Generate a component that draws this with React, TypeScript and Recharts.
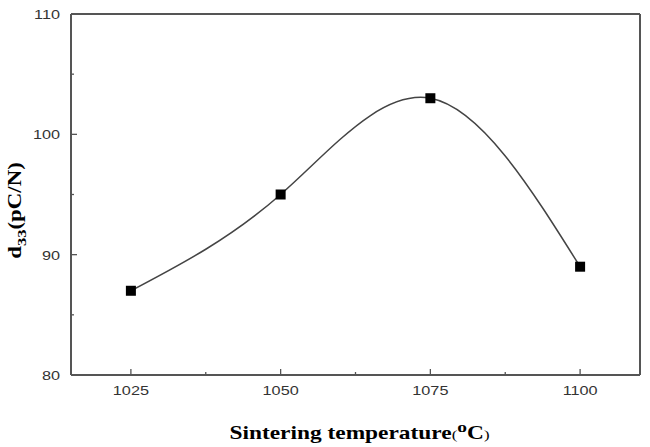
import React from "react";
import {
  ComposedChart,
  Line,
  XAxis,
  YAxis,
  ReferenceLine,
  Label,
} from "recharts";

const temperatures = [1025, 1050, 1075, 1100];
const d33Values = [87, 95, 103, 89];
const xTicks = [1025, 1037.5, 1050, 1062.5, 1075, 1087.5, 1100];
const xMajor = [1025, 1050, 1075, 1100];
const yTicks = [80, 85, 90, 95, 100, 105, 110];
const yMajor = [80, 90, 100, 110];
const xDomain = [1015, 1110];
const yDomain = [80, 110];

const data = temperatures.map((t, i) => ({ t, v: d33Values[i] }));

const AXIS = "#555";
const W = 650;
const H = 447;
const MARGIN = { top: 14, right: 10, left: 0, bottom: 0 };
const Y_WIDTH = 71;
const X_HEIGHT = 72;
const TICK_MARGIN = 4;

const XTick = (props: any) => {
  const { x, y, payload } = props;
  const axisY = y - TICK_MARGIN;
  const major = xMajor.includes(payload.value);
  return (
    <g>
      <line x1={x} x2={x} y1={axisY} y2={axisY - (major ? 6 : 3)} stroke={AXIS} strokeWidth={1.3} />
      {major && (
        <g transform={`translate(${x},${axisY + 20}) scale(1.25,1)`}>
          <text x={0} y={0} textAnchor="middle" fontFamily="Liberation Sans, Arial, sans-serif" fontSize={13} fill="#333">
            {payload.value}
          </text>
        </g>
      )}
    </g>
  );
};

const YTick = (props: any) => {
  const { x, y, payload } = props;
  const axisX = x + TICK_MARGIN;
  const major = yMajor.includes(payload.value);
  return (
    <g>
      <line x1={axisX} x2={axisX + (major ? 6 : 3)} y1={y} y2={y} stroke={AXIS} strokeWidth={1.3} />
      {major && (
        <g transform={`translate(${axisX - 11},${y + 5}) scale(1.25,1)`}>
          <text x={0} y={0} textAnchor="end" fontFamily="Liberation Sans, Arial, sans-serif" fontSize={13} fill="#333">
            {payload.value}
          </text>
        </g>
      )}
    </g>
  );
};

const SquareDot = (props: any) => {
  const { cx, cy } = props;
  if (cx == null || cy == null) return null;
  return <rect x={cx - 5} y={cy - 5} width={10} height={10} fill="#000" />;
};

const XTitle = (props: any) => {
  const vb = props.viewBox || {};
  const cx = vb.x + vb.width / 2 + 4;
  const y = vb.y + 64;
  return (
    <g transform={`translate(${cx},${y}) scale(1.3,1)`}>
      <text x={0} y={0} textAnchor="middle" fontFamily="Liberation Serif, Times New Roman, serif" fontWeight="bold" fontSize={18} fill="#000">
        Sintering temperature
        <tspan fontSize={13} fontWeight="normal">(</tspan>
        <tspan fontSize={15} dy={-7}>o</tspan>
        <tspan dy={7}>C</tspan>
        <tspan fontSize={13} fontWeight="normal">)</tspan>
      </text>
    </g>
  );
};

const YTitle = (props: any) => {
  const vb = props.viewBox || {};
  const cy = vb.y + vb.height / 2 + 16;
  const x = 21;
  return (
    <g transform={`translate(${x},${cy}) rotate(-90) scale(1.27,1)`}>
      <text
        x={0}
        y={0}
        textAnchor="middle"
        fontFamily="Liberation Serif, Times New Roman, serif"
        fontWeight="bold"
        fontSize={18}
        fill="#000"
      >
        d
        <tspan fontSize={13} dy={5}>33</tspan>
        <tspan dy={-5}>(pC/N)</tspan>
      </text>
    </g>
  );
};

export default function App() {
  return (
    <div style={{ position: "fixed", left: 0, top: 0, width: W, height: H, background: "#fff" }}>
      <ComposedChart width={W} height={H} data={data} margin={MARGIN}>
        <XAxis
          dataKey="t"
          type="number"
          domain={xDomain}
          ticks={xTicks}
          interval={0}
          tickSize={0}
          tickMargin={TICK_MARGIN}
          tick={<XTick />}
          axisLine={{ stroke: AXIS, strokeWidth: 2 }}
          height={X_HEIGHT}
        >
          <Label content={<XTitle />} />
        </XAxis>
        <YAxis
          type="number"
          domain={yDomain}
          ticks={yTicks}
          interval={0}
          tickSize={0}
          tickMargin={TICK_MARGIN}
          tick={<YTick />}
          axisLine={{ stroke: AXIS, strokeWidth: 2 }}
          width={Y_WIDTH}
        >
          <Label content={<YTitle />} />
        </YAxis>
        <ReferenceLine y={yDomain[1]} stroke={AXIS} strokeWidth={2} ifOverflow="visible" />
        <ReferenceLine x={xDomain[1]} stroke={AXIS} strokeWidth={2} ifOverflow="visible" />
        <Line
          dataKey="v"
          type="natural"
          stroke="#444"
          strokeWidth={1.5}
          dot={<SquareDot />}
          activeDot={false}
          isAnimationActive={false}
        />
      </ComposedChart>
    </div>
  );
}
